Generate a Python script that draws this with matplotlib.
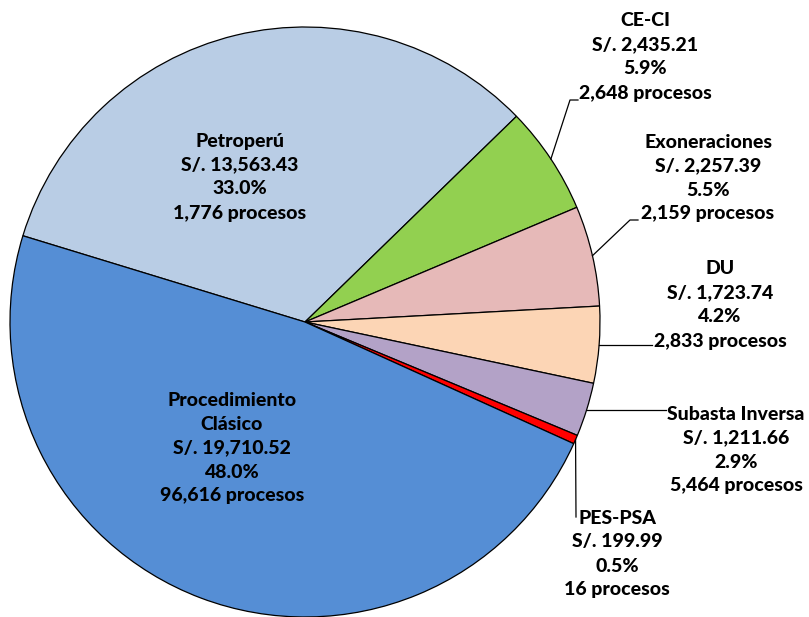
import numpy as np
import matplotlib
matplotlib.use("Agg")
import matplotlib.pyplot as plt

plt.rcParams.update({
    "font.family": ["Lato", "DejaVu Sans"],
    "font.weight": 900,
    "figure.dpi": 100,
})

# Data (clockwise from Petroperú)
categorias = ["Petroperú", "CE-CI", "Exoneraciones", "DU",
              "Subasta Inversa", "PES-PSA", "Procedimiento\nClásico"]
montos = [13563.43, 2435.21, 2257.39, 1723.74, 1211.66, 199.99, 19710.52]
procesos = [1776, 2648, 2159, 2833, 5464, 16, 96616]
colores = ["#B9CDE5", "#92D050", "#E6B9B8", "#FCD5B5",
           "#B3A2C7", "#FF0000", "#558ED5"]

W, H = 809, 617
CX, CY, R = 305, 322, 295  # pie centre / radius in pixels


def px(x, y):
    """pixel -> data coords (pie radius = 1)"""
    return (x - CX) / R, (CY - y) / R


fig = plt.figure(figsize=(W / 100, H / 100), dpi=100)
ax = fig.add_axes([0, 0, 1, 1])

wedges, _ = ax.pie(montos, colors=colores, startangle=163, counterclock=False,
                   radius=1.0,
                   wedgeprops=dict(edgecolor="black", linewidth=0.9))

total = sum(montos)


def etiqueta(i):
    return "{}\nS/. {:,.2f}\n{:.1f}%\n{:,} procesos".format(
        categorias[i], montos[i], 100 * montos[i] / total, procesos[i])


fs = 14
ls = 1.5

# inside labels (centre x, centre y in px)
inside = {0: (240, 177), 6: (232, 448)}
for i, (x, y) in inside.items():
    tx, ty = px(x, y)
    ax.text(tx, ty, etiqueta(i), ha="center", va="center", fontsize=fs,
            linespacing=ls, color="black")

# outside labels: text centre (px); leader end points (px)
outside = {
    1: ((645, 57), [(570, 100), (578, 100)]),
    2: ((708, 178), [(630, 220), (638, 220)]),
    3: ((720, 305), [(652, 349)]),
    4: ((736, 450), [(666, 415)]),
    5: ((617, 554), [(576, 517)]),
}
for i, ((x, y), pts) in outside.items():
    tx, ty = px(x, y)
    ax.text(tx, ty, etiqueta(i), ha="center", va="center", fontsize=fs,
            linespacing=ls, color="black")
    w = wedges[i]
    mid = np.deg2rad((w.theta1 + w.theta2) / 2)
    xs = [np.cos(mid)]
    ys = [np.sin(mid)]
    for p in pts:
        dx, dy = px(*p)
        xs.append(dx)
        ys.append(dy)
    if i == 3 or i == 4:
        ys[-1] = ys[0]
    ax.plot(xs, ys, color="black", lw=0.9)

ax.set_xlim(-CX / R, (W - CX) / R)
ax.set_ylim((CY - H) / R, CY / R)
ax.axis("off")

fig.savefig("out.png", dpi=100)
plt.close(fig)
